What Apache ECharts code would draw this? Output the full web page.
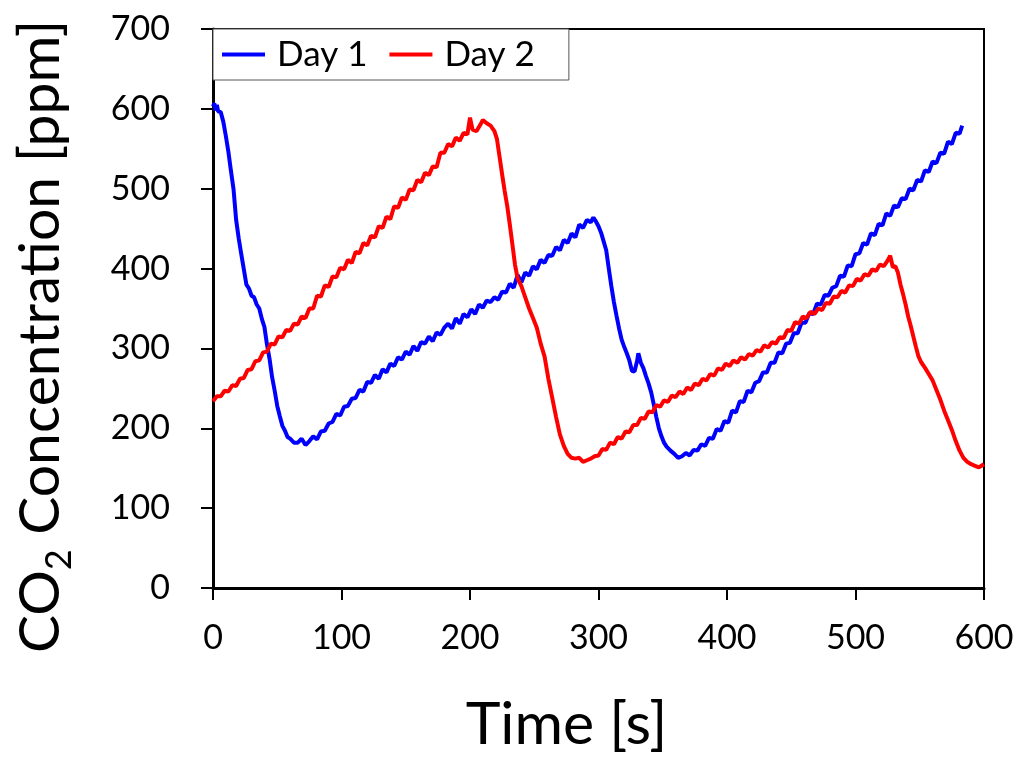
<!DOCTYPE html>
<html>
<head>
<meta charset="utf-8">
<script src="https://cdn.jsdelivr.net/npm/echarts@6/dist/echarts.min.js"></script>
<style>html,body{margin:0;padding:0;background:#fff}#c{width:1021px;height:757px}</style>
</head>
<body>
<div id="c"></div>
<script>
const seriesNames = ['Day 1', 'Day 2'];
const xTicks = [0, 100, 200, 300, 400, 500, 600];
const yTicks = [0, 100, 200, 300, 400, 500, 600, 700];

const day1 = [[0,603],[1,607],[2,598],[3,605],[4,597],[6,596],[8,584],[10,566],[12,546],[14,522],[16,499],[18,461],[20,438],[22,418],[24,399],[26,380],[28,375],[30,366],[32,364],[34,355],[36,350],[38,337],[40,327],[42,305],[44,287],[46,264],[48,247],[50,228],[52,215],[54,203],[56,197],[58,189],[60,187],[63,182],[66,182],[69,187],[72,179],[75,184],[78,190],[81,186],[84,196],[87,197],[90,206],[93,208],[96,218],[99,216],[102,227],[105,228],[108,237],[111,238],[114,248],[117,246],[120,258],[123,257],[126,267],[129,262],[132,274],[135,270],[138,281],[141,278],[144,289],[147,286],[150,296],[153,292],[156,303],[159,297],[162,308],[165,306],[168,315],[171,309],[174,320],[177,317],[180,326],[183,331],[186,325],[189,338],[192,331],[195,343],[198,339],[201,349],[204,343],[207,355],[210,351],[213,360],[216,358],[219,364],[222,361],[225,371],[228,370],[231,381],[234,376],[237,392],[240,383],[243,395],[246,391],[249,403],[252,399],[255,411],[258,407],[261,417],[264,416],[267,427],[270,423],[273,436],[276,432],[279,444],[282,439],[285,455],[288,451],[291,461],[294,458],[296,464],[298,459],[300,453],[302,445],[304,434],[306,423],[308,400],[310,378],[312,358],[314,341],[316,325],[318,311],[320,302],[322,294],[324,285],[326,272],[328,271],[330,284],[331,294],[333,282],[335,275],[337,265],[339,256],[341,245],[343,230],[345,214],[347,200],[349,190],[351,182],[353,177],[356,172],[359,168],[362,163],[365,165],[368,169],[371,166],[374,173],[377,172],[380,180],[383,178],[386,188],[389,187],[392,199],[395,197],[398,209],[401,207],[404,222],[407,220],[410,234],[413,233],[416,247],[419,245],[422,257],[425,259],[428,270],[431,270],[434,282],[437,282],[440,295],[443,294],[446,306],[449,307],[452,319],[455,319],[458,332],[461,332],[464,344],[467,343],[470,356],[473,355],[476,367],[479,366],[482,376],[485,378],[488,391],[491,390],[494,404],[497,403],[500,418],[503,419],[506,432],[509,430],[512,444],[515,442],[518,456],[521,454],[524,469],[527,466],[530,479],[533,477],[536,488],[539,487],[542,500],[545,498],[548,511],[551,509],[554,523],[557,521],[560,534],[563,532],[566,545],[569,544],[572,559],[575,556],[578,570],[581,569],[583,579]];

const day2 = [[0,234],[3,240],[6,240],[9,247],[12,246],[15,254],[18,253],[21,262],[24,263],[27,273],[30,274],[33,284],[36,285],[39,295],[42,296],[45,306],[48,305],[51,315],[54,314],[57,323],[60,322],[63,331],[66,330],[69,340],[72,338],[75,350],[78,350],[81,366],[84,365],[87,379],[90,377],[93,390],[96,389],[99,401],[102,399],[105,411],[108,407],[111,421],[114,419],[117,432],[120,429],[123,441],[126,439],[129,453],[132,451],[135,465],[138,462],[141,478],[144,476],[147,489],[150,486],[153,499],[156,498],[159,511],[162,508],[165,520],[168,517],[171,528],[174,527],[177,545],[180,545],[183,556],[186,553],[189,564],[192,560],[195,570],[198,568],[200,589],[202,574],[205,572],[208,580],[210,586],[213,582],[216,579],[219,572],[221,562],[223,540],[225,518],[227,497],[229,478],[231,455],[233,430],[235,405],[237,388],[240,378],[243,364],[246,350],[249,338],[252,326],[255,306],[258,290],[261,262],[264,238],[267,214],[270,192],[273,178],[276,168],[279,163],[282,162],[285,163],[288,158],[291,160],[294,162],[297,165],[300,166],[303,174],[306,173],[309,182],[312,180],[315,189],[318,187],[321,196],[324,195],[327,204],[330,204],[333,213],[336,212],[339,221],[342,220],[345,229],[348,227],[351,235],[354,233],[357,241],[360,239],[363,246],[366,243],[369,251],[372,248],[375,256],[378,254],[381,262],[384,260],[387,268],[390,266],[393,275],[396,273],[399,281],[402,278],[405,285],[408,282],[411,289],[414,286],[417,293],[420,291],[423,298],[426,296],[429,304],[432,301],[435,308],[438,306],[441,314],[444,313],[447,323],[450,322],[453,333],[456,331],[459,340],[462,338],[465,346],[468,343],[471,350],[474,348],[477,357],[480,356],[483,365],[486,364],[489,372],[492,370],[495,379],[498,378],[501,387],[504,385],[507,393],[510,391],[513,399],[516,397],[519,405],[522,403],[525,410],[527,416],[529,402],[531,403],[533,395],[535,380],[537,368],[539,355],[541,340],[543,328],[545,315],[547,302],[549,290],[551,283],[554,276],[557,268],[560,260],[563,248],[566,236],[569,222],[572,210],[575,198],[578,184],[581,172],[584,163],[587,158],[590,155],[593,153],[596,151],[598,153],[600,155]];

const FONT = 'Lato';
const chart = echarts.init(document.getElementById('c'), null, {renderer: 'canvas'});
chart.setOption({
  animation: false,
  backgroundColor: '#fff',
  grid: {left: 213, right: 37, top: 29, bottom: 169, outerBoundsMode: 'none', containLabel: false, show: true, borderColor: '#000', borderWidth: 2, backgroundColor: 'transparent'},
  legend: {
    left: 213, top: 29, orient: 'horizontal',
    data: seriesNames,
    icon: 'rect', itemWidth: 43, itemHeight: 4, itemGap: 22,
    padding: [8, 34, 8, 9],
    borderColor: '#555', borderWidth: 1, backgroundColor: '#fff',
    textStyle: {fontFamily: FONT, fontSize: 35, color: '#000', padding: [0, 0, 0, 7]}
  },
  xAxis: {
    type: 'value', min: xTicks[0], max: xTicks[xTicks.length - 1], interval: 100,
    name: 'Time [s]', nameLocation: 'middle', nameGap: 107,
    nameTextStyle: {fontFamily: FONT, fontSize: 59, color: '#000', padding: [0, 64, 0, 0]},
    axisLine: {show: true, onZero: false, lineStyle: {color: '#000', width: 3}},
    axisTick: {show: true, inside: false, length: 12, lineStyle: {color: '#000', width: 2}},
    axisLabel: {fontFamily: FONT, fontSize: 34, color: '#000', margin: 33},
    splitLine: {show: false}
  },
  yAxis: {
    type: 'value', min: yTicks[0], max: yTicks[yTicks.length - 1], interval: 100,
    name: '{n|CO}{s|2}{n| Concentration [ppm]}', nameLocation: 'middle', nameGap: 136,
    nameTextStyle: {
      fontFamily: FONT, fontSize: 57, color: '#000', padding: [0, 56, 0, 0],
      rich: {
        n: {fontFamily: FONT, fontSize: 57, color: '#000', lineHeight: 60, verticalAlign: 'middle'},
        s: {fontFamily: FONT, fontSize: 36, color: '#000', lineHeight: 73, verticalAlign: 'bottom'}
      }
    },
    axisLine: {show: true, onZero: false, lineStyle: {color: '#000', width: 3}},
    axisTick: {show: true, inside: false, length: 12, lineStyle: {color: '#000', width: 2}},
    axisLabel: {fontFamily: FONT, fontSize: 34, color: '#000', margin: 43},
    splitLine: {show: false}
  },
  series: [
    {name: seriesNames[0], type: 'line', data: day1, showSymbol: false, symbol: 'none', lineStyle: {color: '#0000FF', width: 4}, itemStyle: {color: '#0000FF'}, z: 2},
    {name: seriesNames[1], type: 'line', data: day2, showSymbol: false, symbol: 'none', lineStyle: {color: '#FF0000', width: 4}, itemStyle: {color: '#FF0000'}, z: 3}
  ]
});
</script>
</body>
</html>
